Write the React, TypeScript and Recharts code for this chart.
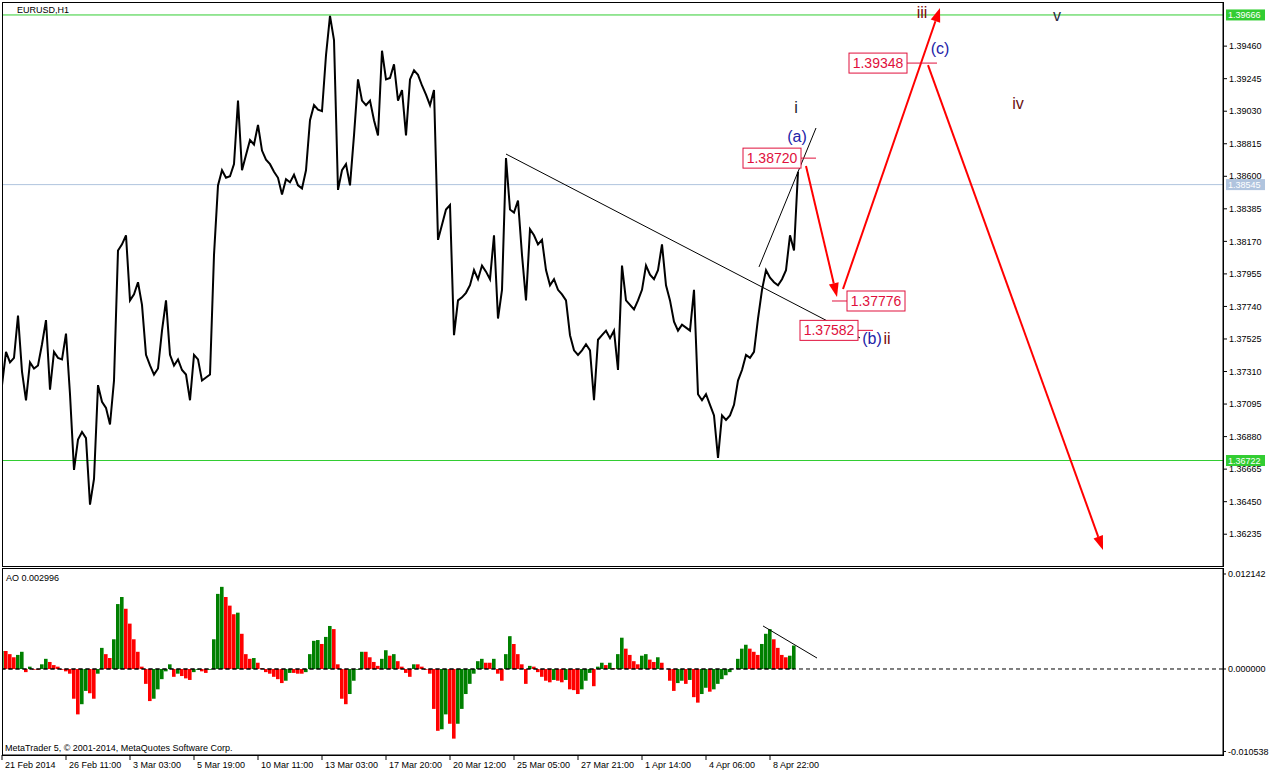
import React from 'react';
import {
  ComposedChart,
  Line,
  Bar,
  Cell,
  XAxis,
  YAxis,
  ReferenceLine,
  ReferenceDot,
} from 'recharts';

const FONT = '"Liberation Sans", Arial, sans-serif';

// EURUSD H1, one close sampled every 4 bars (bar index = hours since first bar)
const STEP = 4;
const closes = [
  1.3722, 1.3744, 1.3737, 1.3740, 1.3768, 1.3731, 1.3712, 1.3737, 1.3733, 1.3735,
  1.3749, 1.3765, 1.3719, 1.3744, 1.3740, 1.3739, 1.3756, 1.3716, 1.3666, 1.3686,
  1.3691, 1.3687, 1.3643, 1.3660, 1.3722, 1.3711, 1.3707, 1.3696, 1.3725, 1.3811,
  1.3815, 1.3821, 1.3778, 1.3782, 1.3790, 1.3775, 1.3742, 1.3735, 1.3729, 1.3733,
  1.3758, 1.3778, 1.3742, 1.3735, 1.3739, 1.3732, 1.3729, 1.3712, 1.3742, 1.3739,
  1.3725, 1.3727, 1.3729, 1.3808, 1.3854, 1.3864, 1.3859, 1.3860, 1.3868, 1.3910,
  1.3864, 1.3874, 1.3884, 1.3881, 1.3894, 1.3877, 1.3871, 1.3868, 1.3863, 1.3859,
  1.3848, 1.3858, 1.3856, 1.3861, 1.3854, 1.3852, 1.3864, 1.3897, 1.3907, 1.3904,
  1.3903, 1.3940, 1.3966, 1.3950, 1.3851, 1.3864, 1.3868, 1.3854, 1.3887, 1.3924,
  1.3910, 1.3907, 1.3910, 1.3897, 1.3887, 1.3943, 1.3924, 1.3925, 1.3934, 1.3910,
  1.3917, 1.3887, 1.3924, 1.3930, 1.3927, 1.3920, 1.3914, 1.3907, 1.3917, 1.3818,
  1.3828, 1.3838, 1.3841, 1.3755, 1.3778, 1.3780, 1.3783, 1.3788, 1.3798, 1.3792,
  1.3801, 1.3797, 1.3792, 1.3821, 1.3766, 1.3785, 1.3872, 1.3838, 1.3836, 1.3844,
  1.3808, 1.3778, 1.3825, 1.3821, 1.3815, 1.3818, 1.3798, 1.3788, 1.3792, 1.3785,
  1.3782, 1.3778, 1.3755, 1.3745, 1.3742, 1.3745, 1.3749, 1.3745, 1.3712, 1.3752,
  1.3755, 1.3758, 1.3753, 1.3758, 1.3732, 1.3801, 1.3778, 1.3775, 1.3772, 1.3778,
  1.3785, 1.3801, 1.3795, 1.3792, 1.3798, 1.3815, 1.3788, 1.3778, 1.3764, 1.3758,
  1.3762, 1.3760, 1.3758, 1.3785, 1.3716, 1.3712, 1.3716, 1.3709, 1.3702, 1.3674,
  1.3702, 1.3699, 1.3702, 1.3709, 1.3725, 1.3732, 1.3742, 1.3740, 1.3744, 1.3766,
  1.3785, 1.3798, 1.3793, 1.3790, 1.3788, 1.3792, 1.3798, 1.3821, 1.3811, 1.3863,
];

// Awesome Oscillator, same sampling
const aoValues = [
  0.0023, 0.0023, 0.0019, 0.0015, 0.0018, 0.0022, -0.0004, 0.0003, -0.0001, -0.0001,
  0.0006, 0.0013, 0.0009, 0.0005, 0.0003, -0.0001, -0.0003, -0.0006, -0.0038, -0.0058,
  -0.0045, -0.0028, -0.0031, -0.0038, -0.0006, 0.0027, 0.0019, 0.0014, 0.0038, 0.0083,
  0.0092, 0.0077, 0.0058, 0.0038, 0.0022, 0.0003, -0.0019, -0.0041, -0.0038, -0.0026,
  -0.0013, -0.0003, 0.0006, -0.0010, -0.0006, -0.0009, -0.0012, -0.0014, -0.0004, -0.0001,
  -0.0003, -0.0005, -0.0001, 0.0038, 0.0096, 0.0105, 0.0092, 0.0081, 0.0070, 0.0072,
  0.0045, 0.0019, 0.0013, 0.0014, 0.0008, 0.0001, -0.0004, -0.0006, -0.0010, -0.0013,
  -0.0018, -0.0015, -0.0005, -0.0005, -0.0006, -0.0006, -0.0004, 0.0019, 0.0036, 0.0037,
  0.0032, 0.0041, 0.0055, 0.0051, 0.0006, -0.0038, -0.0045, -0.0032, -0.0015, -0.0001,
  0.0022, 0.0022, 0.0015, 0.0009, 0.0004, 0.0013, 0.0024, 0.0017, 0.0019, 0.0010,
  0.0003, -0.0005, -0.0010, 0.0006, 0.0006, 0.0003, -0.0001, -0.0006, -0.0051, -0.0079,
  -0.0077, -0.0058, -0.0070, -0.0089, -0.0070, -0.0051, -0.0032, -0.0019, -0.0006, 0.0010,
  0.0013, 0.0008, 0.0008, 0.0013, -0.0006, -0.0015, 0.0019, 0.0042, 0.0032, 0.0019,
  0.0006, -0.0019, 0.0004, 0.0003, -0.0004, -0.0010, -0.0015, -0.0017, -0.0014, -0.0015,
  -0.0017, -0.0014, -0.0026, -0.0027, -0.0032, -0.0026, -0.0015, -0.0005, -0.0022, 0.0003,
  0.0008, 0.0005, 0.0008, 0.0001, 0.0019, 0.0040, 0.0026, 0.0018, 0.0010, 0.0006,
  0.0017, 0.0019, 0.0012, 0.0009, 0.0015, 0.0008, 0.0000, -0.0015, -0.0028, -0.0018,
  -0.0015, -0.0019, -0.0014, -0.0036, -0.0043, -0.0032, -0.0024, -0.0029, -0.0026, -0.0019,
  -0.0013, -0.0008, -0.0004, 0.0000, 0.0013, 0.0026, 0.0031, 0.0026, 0.0022, 0.0018,
  0.0032, 0.0045, 0.0051, 0.0038, 0.0027, 0.0018, 0.0015, 0.0017, 0.0030,
];

const timeTicks = [0, 64, 128, 192, 256, 320, 384, 448, 512, 576, 640, 704, 768];
const timeLabels = [
  '21 Feb 2014', '26 Feb 11:00', '3 Mar 03:00', '5 Mar 19:00', '10 Mar 11:00',
  '13 Mar 03:00', '17 Mar 20:00', '20 Mar 12:00', '25 Mar 05:00', '27 Mar 21:00',
  '1 Apr 14:00', '4 Apr 06:00', '8 Apr 22:00',
];

const priceTicks = [
  1.3946, 1.39245, 1.3903, 1.38815, 1.386, 1.38385, 1.3817, 1.37955,
  1.3774, 1.37525, 1.3731, 1.37095, 1.3688, 1.36665, 1.3645, 1.36235,
];
const aoTicks = [0.012142, 0, -0.010538];

const priceDomain = [1.36025, 1.39745];
const aoDomain = [-0.010992, 0.012781];
const xDomain = [0, 1221];

// horizontal levels: high, current bid, low
const levels = [1.39666, 1.38545, 1.36722];
const levelColors = ['#32cd32', '#b0c4de', '#32cd32'];

// trend lines (bar index, price)
const trendLines = [
  [{ x: 504, y: 1.38747 }, { x: 858, y: 1.37532 }],
  [{ x: 757, y: 1.38001 }, { x: 814, y: 1.38919 }],
];
const aoTrend = [{ x: 761, y: 0.0055 }, { x: 815, y: 0.0014 }];

// projected path arrows
const arrows = [
  [{ x: 804, y: 1.38668 }, { x: 835, y: 1.37802 }],
  [{ x: 841, y: 1.37855 }, { x: 938, y: 1.39712 }],
  [{ x: 926, y: 1.39335 }, { x: 1101, y: 1.36131 }],
];

// price labels: box sits on `side` of the anchor
const priceTags = [
  { idx: 799, price: 1.3872, side: 'left' },
  { idx: 845, price: 1.37776, side: 'right' },
  { idx: 856, price: 1.37582, side: 'left' },
  { idx: 905, price: 1.39348, side: 'left' },
];
const tagStems = [15, 15, 15, 30];

// Elliott wave counts
const waves = [
  { text: 'i', idx: 794, price: 1.39058 },
  { text: '(a)', idx: 795, price: 1.38866 },
  { text: '(b)', idx: 870, price: 1.37532 },
  { text: 'ii', idx: 885, price: 1.37532 },
  { text: 'iii', idx: 920, price: 1.39686 },
  { text: '(c)', idx: 938, price: 1.39448 },
  { text: 'iv', idx: 1016, price: 1.39084 },
  { text: 'v', idx: 1055, price: 1.39666 },
];
const waveColors: Record<string, string> = {
  'i': '#1c1c2c', '(a)': '#2222a8', '(b)': '#2222a8', 'ii': '#7a0a0a',
  'iii': '#7a0a0a', '(c)': '#2222a8', 'iv': '#6a1010', 'v': '#2c2c40',
};

const priceData = closes.map((c, i) => ({ idx: i * STEP, close: c }));
const aoData = aoValues.map((v, i) => ({ idx: i * STEP, ao: v }));

function Arrow(props: any) {
  const { x1, y1, x2, y2 } = props;
  const a = Math.atan2(y2 - y1, x2 - x1);
  const len = 14;
  const half = 5;
  const bx = x2 - len * Math.cos(a);
  const by = y2 - len * Math.sin(a);
  const px = half * Math.sin(a);
  const py = half * Math.cos(a);
  return (
    <g>
      <line x1={x1} y1={y1} x2={bx} y2={by} stroke="#ff0000" strokeWidth={2} />
      <polygon points={`${x2},${y2} ${bx + px},${by - py} ${bx - px},${by + py}`} fill="#ff0000" />
    </g>
  );
}

function LevelTag({ viewBox, value, color }: any) {
  if (!viewBox) return null;
  const y = viewBox.y;
  return (
    <g>
      <rect x={1226} y={y - 5.5} width={39} height={11} fill={color} />
      <text x={1228} y={y} dy="0.35em" fontSize={9} fontFamily={FONT} fill="#fff">
        {value.toFixed(5)}
      </text>
    </g>
  );
}

function TimeTick({ x, y, payload }: any) {
  const i = timeTicks.indexOf(payload.value);
  return (
    <g>
      <line x1={x} y1={y} x2={x} y2={y + 5} stroke="#000" />
      <text x={x + 3} y={y + 10} dy="0.35em" fontSize={9} fontFamily={FONT} fill="#000">
        {timeLabels[i]}
      </text>
    </g>
  );
}

const axisTick = { fontSize: 9, fill: '#000', fontFamily: FONT };

export default function App() {
  return (
    <div style={{ position: 'absolute', left: 0, top: 0, width: 1276, height: 777, background: '#fff', overflow: 'hidden', fontFamily: FONT }}>
      {/* price panel */}
      <div style={{ position: 'absolute', left: 0, top: 0 }}>
        <ComposedChart width={1276} height={568} data={priceData} margin={{ top: 3, right: 0, bottom: 2, left: 2 }}>
          <XAxis dataKey="idx" type="number" domain={xDomain} allowDataOverflow hide />
          <YAxis
            orientation="right"
            type="number"
            width={53}
            domain={priceDomain}
            allowDataOverflow
            ticks={priceTicks}
            interval={0}
            tickFormatter={(v: number) => v.toFixed(5)}
            tick={axisTick}
            tickSize={4}
            tickMargin={2}
            axisLine={{ stroke: '#000' }}
            tickLine={{ stroke: '#000' }}
          />
          {levels.map((lv, i) => (
            <ReferenceLine
              key={lv}
              y={lv}
              stroke={levelColors[i]}
              strokeWidth={1}
              label={(p: any) => <LevelTag viewBox={p.viewBox} value={lv} color={levelColors[i]} />}
            />
          ))}
          {trendLines.map((seg, i) => (
            <ReferenceLine key={`t${i}`} segment={seg} stroke="#000" strokeWidth={1} />
          ))}
          <Line
            type="linear"
            dataKey="close"
            stroke="#000"
            strokeWidth={2}
            dot={false}
            isAnimationActive={false}
          />
          {arrows.map((seg, i) => (
            <ReferenceLine key={`a${i}`} segment={seg} shape={(p: any) => <Arrow {...p} />} />
          ))}
          {priceTags.map((t, i) => (
            <ReferenceDot
              key={`p${i}`}
              x={t.idx}
              y={t.price}
              r={0}
              shape={(p: any) => {
                const { cx, cy } = p;
                const stem = tagStems[i];
                const bx = t.side === 'left' ? cx - 58 : cx;
                return (
                  <g>
                    <line
                      x1={t.side === 'left' ? cx : cx - stem}
                      x2={t.side === 'left' ? cx + stem : cx}
                      y1={cy}
                      y2={cy}
                      stroke="#e0103c"
                    />
                    <rect x={bx} y={cy - 10} width={58} height={20} fill="#fff" stroke="#e0103c" />
                    <text x={bx + 29} y={cy} dy="0.36em" textAnchor="middle" fontSize={14} fontFamily={FONT} fill="#e0103c">
                      {t.price.toFixed(5)}
                    </text>
                  </g>
                );
              }}
            />
          ))}
          {waves.map((w) => (
            <ReferenceDot
              key={w.text}
              x={w.idx}
              y={w.price}
              r={0}
              shape={(p: any) => (
                <text x={p.cx} y={p.cy} dy="0.36em" textAnchor="middle" fontSize={16} fontFamily={FONT} fill={waveColors[w.text]}>
                  {w.text}
                </text>
              )}
            />
          ))}
        </ComposedChart>
      </div>

      {/* AO panel */}
      <div style={{ position: 'absolute', left: 0, top: 566 }}>
        <ComposedChart width={1276} height={211} data={aoData} margin={{ top: 3, right: 0, bottom: 0, left: 2 }}>
          <XAxis
            dataKey="idx"
            type="number"
            domain={xDomain}
            allowDataOverflow
            ticks={timeTicks}
            interval={0}
            height={22}
            tickSize={0}
            tickMargin={0}
            tickLine={false}
            axisLine={{ stroke: '#000' }}
            tick={<TimeTick />}
          />
          <YAxis
            orientation="right"
            type="number"
            width={53}
            domain={aoDomain}
            allowDataOverflow
            ticks={aoTicks}
            interval={0}
            tickFormatter={(v: number) => v.toFixed(6)}
            tick={axisTick}
            tickSize={3}
            tickMargin={2}
            axisLine={{ stroke: '#000' }}
            tickLine={{ stroke: '#000' }}
          />
          <ReferenceLine y={0} stroke="#000" strokeDasharray="4 3" />
          <Bar dataKey="ao" barSize={5} isAnimationActive={false}>
            {aoData.map((d, i) => (
              <Cell key={i} fill={i === 0 || d.ao > aoData[i - 1].ao ? '#008000' : '#ff0000'} />
            ))}
          </Bar>
          {/* zero level drawn again over the histogram */}
          <Line
            dataKey={() => 0}
            stroke="#000"
            strokeWidth={1}
            strokeDasharray="4 3"
            dot={false}
            activeDot={false}
            isAnimationActive={false}
          />
          <ReferenceLine segment={aoTrend} stroke="#000" strokeWidth={1} />
        </ComposedChart>
      </div>

      {/* panel frames */}
      <div style={{ position: 'absolute', left: 2, top: 2, width: 1222, height: 565, border: '1px solid #000', boxSizing: 'border-box', pointerEvents: 'none' }} />
      <div style={{ position: 'absolute', left: 2, top: 568, width: 1222, height: 188, border: '1px solid #000', boxSizing: 'border-box', pointerEvents: 'none' }} />

      <div style={{ position: 'absolute', left: 17, top: 4, fontSize: 9, lineHeight: '12px' }}>EURUSD,H1</div>
      <div style={{ position: 'absolute', left: 6, top: 572, fontSize: 9, lineHeight: '12px' }}>AO 0.002996</div>
      <div style={{ position: 'absolute', left: 5, top: 742, fontSize: 9, lineHeight: '12px' }}>
        MetaTrader 5, © 2001-2014, MetaQuotes Software Corp.
      </div>
    </div>
  );
}
